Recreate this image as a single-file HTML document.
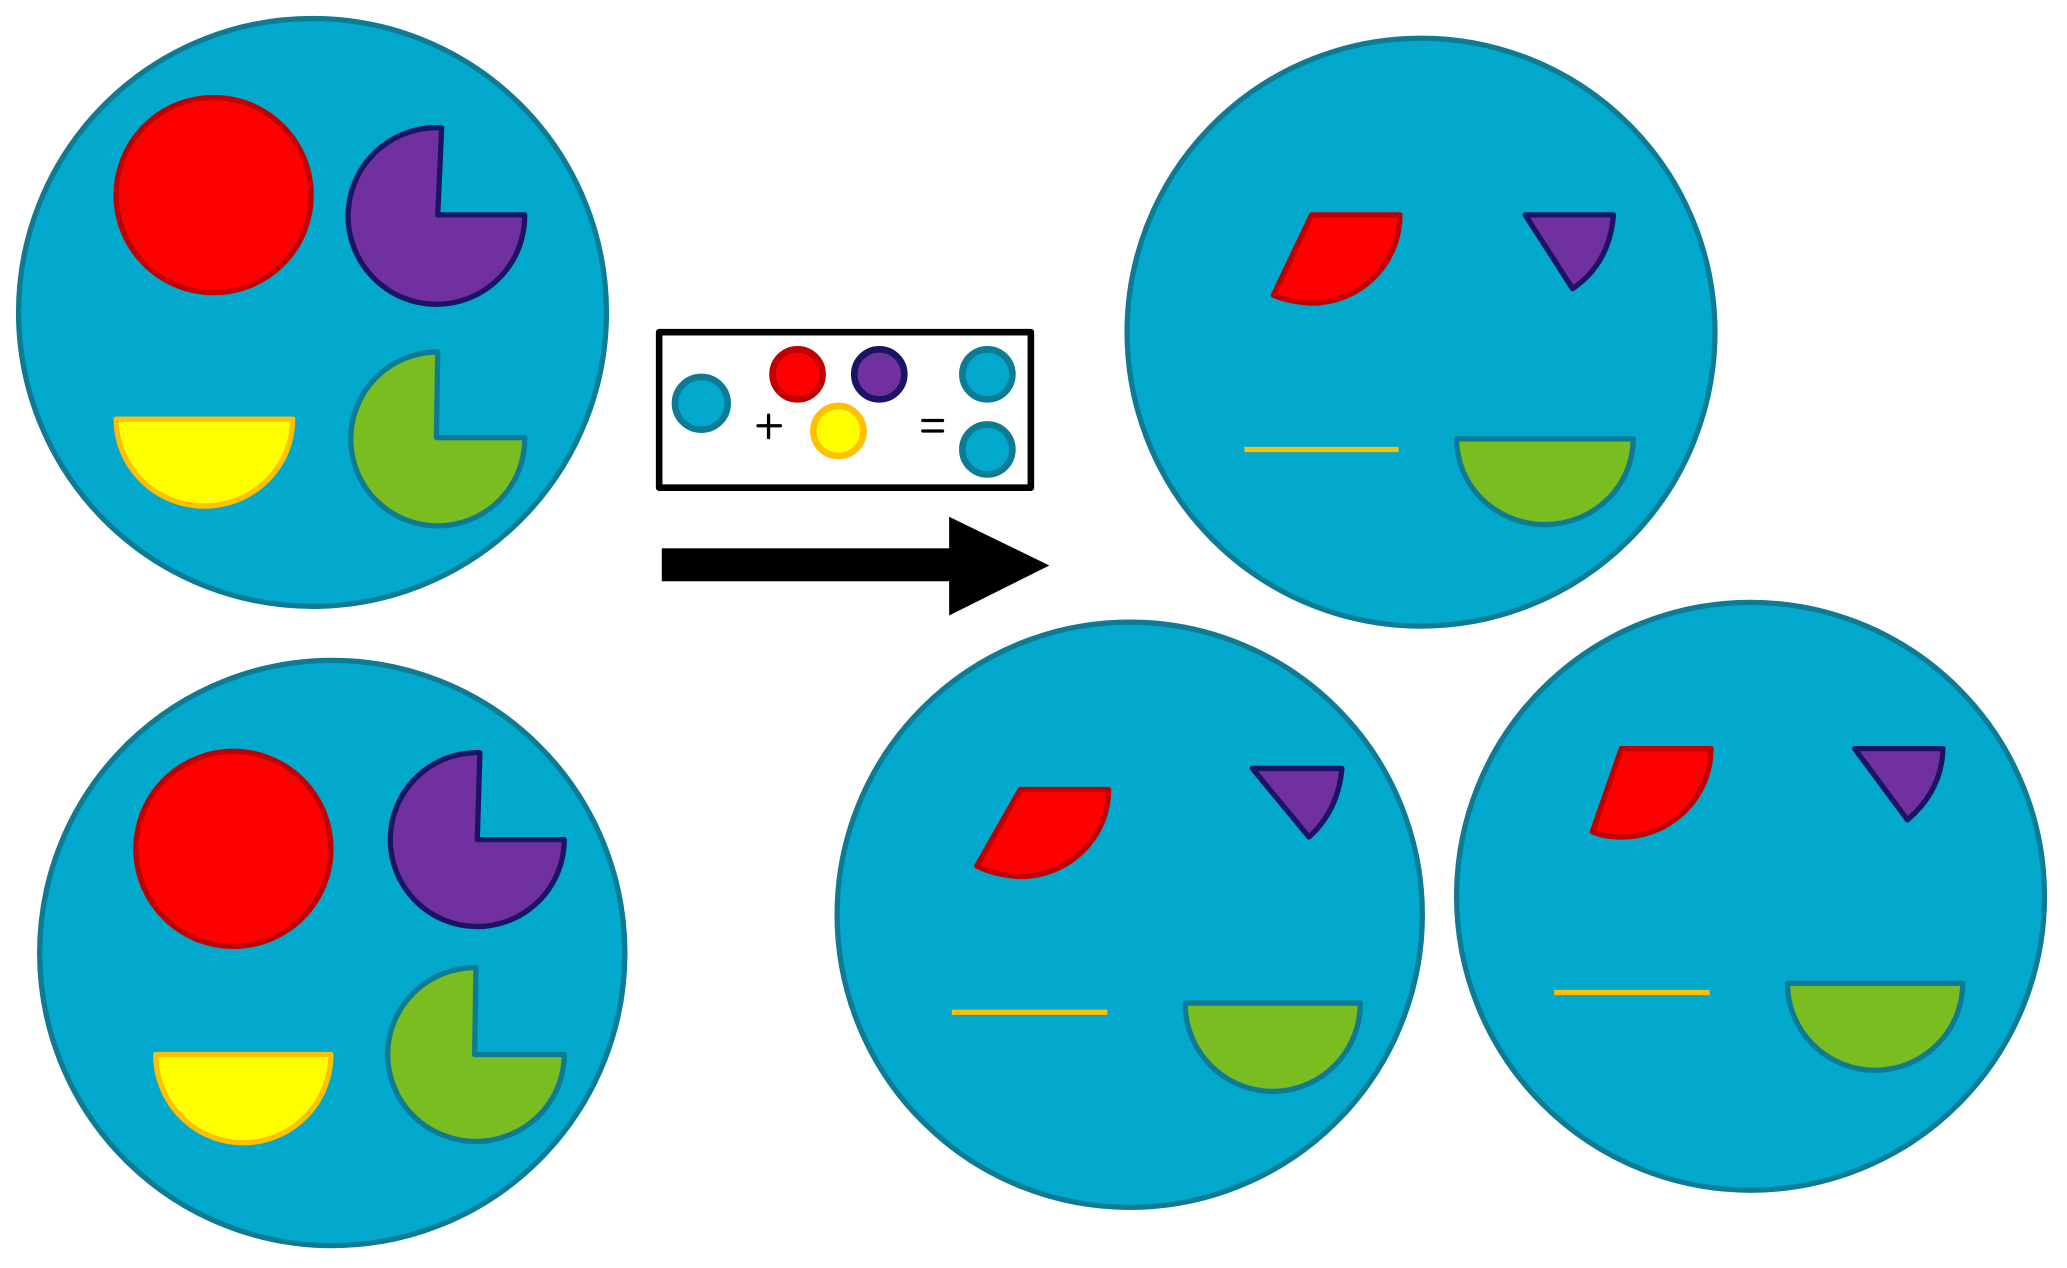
<!DOCTYPE html>
<html><head><style>html,body{margin:0;padding:0;background:#fff}svg{display:block}</style></head><body>
<svg width="2067" height="1268" viewBox="0 0 1568 962" xmlns="http://www.w3.org/2000/svg">
<g stroke-linejoin="round" stroke-width="4">
<!-- big circles -->
<g fill="#02A9CD" stroke="#0D7B93">
<circle cx="237" cy="237" r="223"/>
<circle cx="252" cy="723" r="222"/>
<circle cx="1078" cy="252" r="223"/>
<circle cx="857" cy="694" r="222"/>
<circle cx="1328" cy="680" r="223"/>
</g>
<!-- TL -->
<circle cx="162" cy="148" r="74" fill="#FF0000" stroke="#C00000"/>
<path d="M332,163 L335,97 A67,67 0 1 0 398,163 Z" fill="#7030A0" stroke="#1A1464"/>
<path d="M88,318 L222,318 A67,66 0 0 1 88,318 Z" fill="#FFFF00" stroke="#FFC000"/>
<path d="M331,332 L332,267 A66,66 0 1 0 398,332 Z" fill="#7ABD20" stroke="#0D7B93"/>
<!-- BL -->
<circle cx="177" cy="644" r="74" fill="#FF0000" stroke="#C00000"/>
<path d="M362,637 L364,571 A66,66 0 1 0 428,637 Z" fill="#7030A0" stroke="#1A1464"/>
<path d="M118,800 L251,800 A66.5,67 0 0 1 118,800 Z" fill="#FFFF00" stroke="#FFC000"/>
<path d="M360,800 L361,734 A67,66 0 1 0 428,800 Z" fill="#7ABD20" stroke="#0D7B93"/>
<!-- TR -->
<path d="M966,224 L995,163 L1062,163 A67,67 0 0 1 995,230 Q978,229 966,224 Z" fill="#FF0000" stroke="#C00000"/>
<path d="M1157,163 L1224,163 Q1221,200 1193,219 Z" fill="#7030A0" stroke="#1A1464"/>
<line x1="944" y1="341" x2="1061" y2="341" stroke="#FFC000"/>
<path d="M1105,333 L1239,333 A67,65 0 0 1 1105,333 Z" fill="#7ABD20" stroke="#0D7B93"/>
<!-- BM -->
<path d="M741,657 L774,599 L841,599 A67,66 0 0 1 774,665 Q755,664 741,657 Z" fill="#FF0000" stroke="#C00000"/>
<path d="M950,583 L1018,583 Q1015,615 993,635 Z" fill="#7030A0" stroke="#1A1464"/>
<line x1="722" y1="768" x2="840" y2="768" stroke="#FFC000"/>
<path d="M899,761 L1032,761 A66.5,67 0 0 1 899,761 Z" fill="#7ABD20" stroke="#0D7B93"/>
<!-- BR -->
<path d="M1208,631 L1230,568 L1298,568 A68,67 0 0 1 1230,635 Q1217,635 1208,631 Z" fill="#FF0000" stroke="#C00000"/>
<path d="M1407,568 L1474,568 Q1473,600 1447,622 Z" fill="#7030A0" stroke="#1A1464"/>
<line x1="1179" y1="753" x2="1297" y2="753" stroke="#FFC000"/>
<path d="M1356,746 L1489,746 A66.5,66 0 0 1 1356,746 Z" fill="#7ABD20" stroke="#0D7B93"/>
<!-- legend -->
<rect x="500" y="252" width="282" height="118" fill="#fff" stroke="#000" stroke-width="5"/>
<circle cx="532" cy="306" r="20" fill="#02A9CD" stroke="#0D7B93" stroke-width="5"/>
<circle cx="605" cy="284" r="19" fill="#FF0000" stroke="#C00000" stroke-width="5"/>
<circle cx="667" cy="284" r="19" fill="#7030A0" stroke="#1A1464" stroke-width="5"/>
<circle cx="636" cy="327" r="19" fill="#FFFF00" stroke="#FFC000" stroke-width="5"/>
<circle cx="749" cy="284" r="19" fill="#02A9CD" stroke="#0D7B93" stroke-width="5"/>
<circle cx="749" cy="341" r="19" fill="#02A9CD" stroke="#0D7B93" stroke-width="5"/>
<g stroke="#000" stroke-width="2.5" stroke-linecap="round">
<line x1="575" y1="323" x2="592" y2="323"/><line x1="583" y1="315" x2="583" y2="332"/>
<line x1="700" y1="319" x2="715" y2="319"/><line x1="700" y1="327" x2="715" y2="327"/>
</g>
<!-- arrow -->
<rect x="502" y="416" width="219" height="25" fill="#000" stroke="none"/>
<polygon points="720,392 796,429 720,467" fill="#000" stroke="none"/>
</g>
</svg>
</body></html>
